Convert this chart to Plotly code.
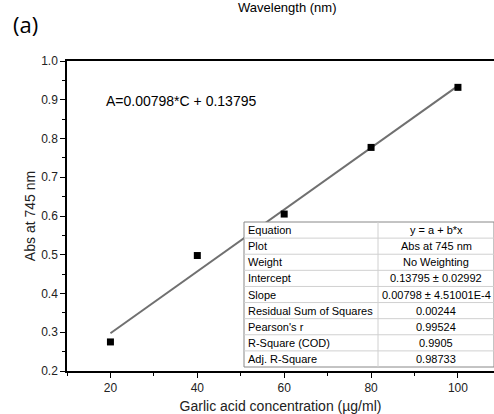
import plotly.graph_objects as go

conc = [20, 40, 60, 80, 100]
absorb = [0.275, 0.498, 0.605, 0.777, 0.932]
intercept = 0.13795
slope = 0.00798
fit_x = [20, 100]
fit_y = [intercept + slope * x for x in fit_x]

table_labels = ["Equation", "Plot", "Weight", "Intercept", "Slope",
                "Residual Sum of Squares", "Pearson's r", "R-Square (COD)", "Adj. R-Square"]
table_values = ["y = a + b*x", "Abs at 745 nm", "No Weighting", "0.13795 ± 0.02992",
                "0.00798 ± 4.51001E-4", "0.00244", "0.99524", "0.9905", "0.98733"]

W, H = 494, 414
L, R, T, B = 67, 0, 61, 43
pw = W - L - R
ph = H - T - B


def px(x):
    return (x - L) / pw


def py(y):
    return (H - B - y) / ph


fig = go.Figure()
fig.add_trace(go.Scatter(x=fit_x, y=fit_y, mode="lines",
                         line=dict(color="#707070", width=2), showlegend=False))
fig.add_trace(go.Scatter(x=conc, y=absorb, mode="markers",
                         marker=dict(symbol="square", size=7, color="black"), showlegend=False))

# results table drawn with shapes + annotations
tx0, tx1, tdiv = 244, 494, 378
ty0, ty1 = 222, 367
n = len(table_labels)
rh = (ty1 - ty0) / n
fig.add_shape(type="rect", xref="paper", yref="paper", x0=px(tx0), x1=px(tx1), y0=py(ty1), y1=py(ty0),
              fillcolor="white", line=dict(color="#888888", width=1), layer="above")
for i in range(1, n):
    yy = ty0 + i * rh
    fig.add_shape(type="line", xref="paper", yref="paper", x0=px(tx0), x1=px(tx1), y0=py(yy), y1=py(yy),
                  line=dict(color="#d0d0d0", width=1), layer="above")
fig.add_shape(type="line", xref="paper", yref="paper", x0=px(tdiv), x1=px(tdiv), y0=py(ty1), y1=py(ty0),
              line=dict(color="#d0d0d0", width=1), layer="above")
tfont = dict(family="Liberation Sans, Arial", size=11, color="black")
for i, (lab, val) in enumerate(zip(table_labels, table_values)):
    yc = ty0 + (i + 0.5) * rh
    fig.add_annotation(text=lab, xref="paper", yref="paper", x=px(tx0 + 2), y=py(yc),
                       xanchor="left", yanchor="middle", showarrow=False, font=tfont)
    fig.add_annotation(text=val, xref="paper", yref="paper", x=px((tdiv + tx1) / 2), y=py(yc),
                       xanchor="center", yanchor="middle", showarrow=False, font=tfont)

fig.add_annotation(text="A=0.00798*C + 0.13795", xref="paper", yref="paper",
                   x=px(104), y=py(101), xanchor="left", yanchor="middle",
                   showarrow=False, font=dict(family="Liberation Sans, Arial", size=14, color="black"))
fig.add_annotation(text="Wavelength (nm)", xref="paper", yref="paper",
                   x=px(287), y=py(7), xanchor="center", yanchor="middle",
                   showarrow=False, font=dict(family="Liberation Sans, Arial", size=13, color="black"))
fig.add_annotation(text="(a)", xref="paper", yref="paper",
                   x=px(11), y=py(24), xanchor="left", yanchor="middle",
                   showarrow=False, font=dict(family="Open Sans, Noto Sans", size=22, color="black"))

axis_font = dict(family="Liberation Sans, Arial", size=12, color="#222")
fig.update_layout(
    width=W, height=H, margin=dict(l=L, r=R, t=T, b=B),
    plot_bgcolor="white", paper_bgcolor="white",
    xaxis=dict(range=[10, 108.3], tickvals=[20, 40, 60, 80, 100], showgrid=False, zeroline=False,
               showline=True, linecolor="black", linewidth=1.5, mirror=True,
               ticks="outside", ticklen=5, tickwidth=1.2, tickcolor="black",
               minor=dict(dtick=10, tick0=10, ticks="outside", ticklen=3, tickcolor="black", tickwidth=1),
               tickfont=axis_font,
               title=dict(text="Garlic acid concentration (µg/ml)",
                          font=dict(family="Liberation Sans, Arial", size=14, color="#222"), standoff=8)),
    yaxis=dict(range=[0.2, 1.0], dtick=0.1, tickformat=".1f", showgrid=False, zeroline=False,
               showline=True, linecolor="black", linewidth=1.5,
               ticks="outside", ticklen=5, tickwidth=1.2, tickcolor="black",
               minor=dict(dtick=0.05, ticks="outside", ticklen=3, tickcolor="black", tickwidth=1),
               tickfont=axis_font,
               title=dict(text="Abs at 745 nm",
                          font=dict(family="Liberation Sans, Arial", size=14, color="#222"), standoff=2)),
)
fig.write_html("out.html")
